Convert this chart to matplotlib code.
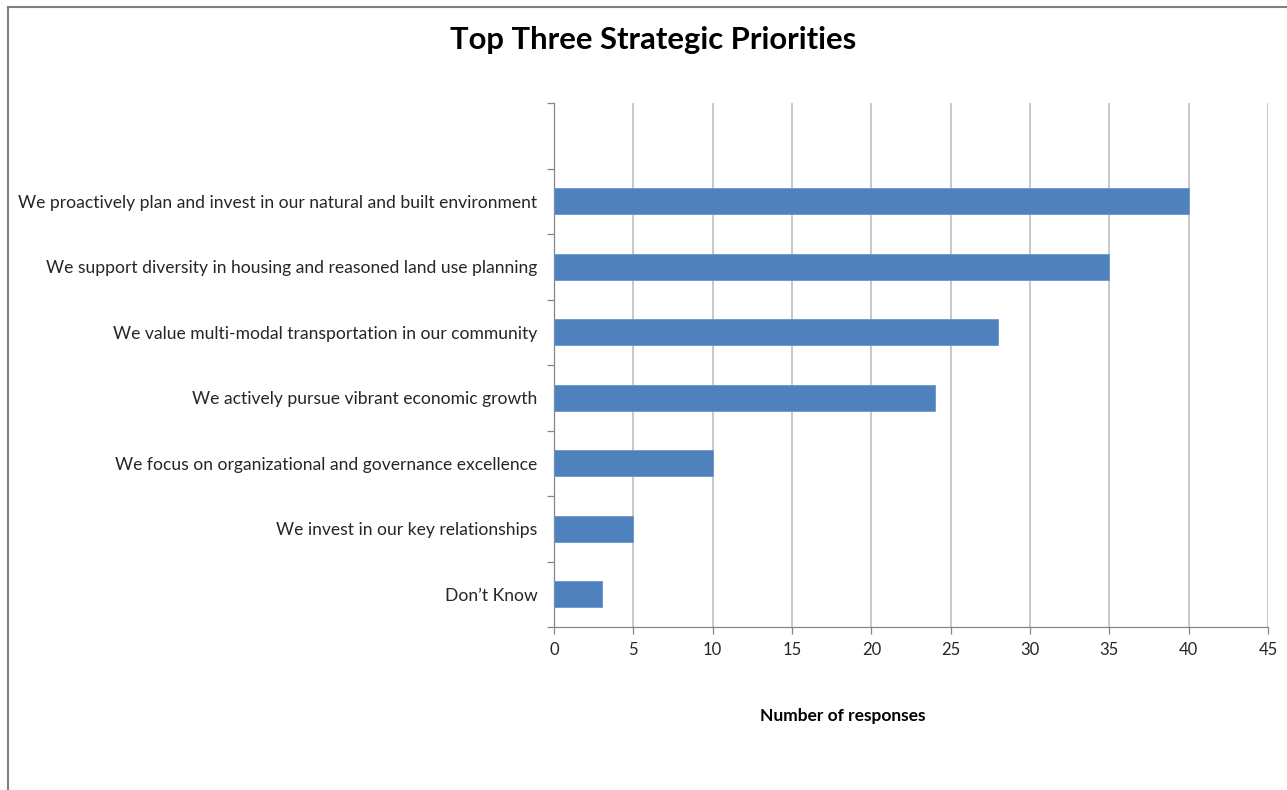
import matplotlib.pyplot as plt
from matplotlib.lines import Line2D
import numpy as np

plt.rcParams['font.family'] = ['Lato', 'DejaVu Sans']

# survey answers, bottom to top as drawn
priorities = [
    "Don\u2019t Know",
    "We invest in our key relationships",
    "We focus on organizational and governance excellence",
    "We actively pursue vibrant economic growth",
    "We value multi-modal transportation in our community",
    "We support diversity in housing and reasoned land use planning",
    "We proactively plan and invest in our natural and built environment",
]
responses = [3, 5, 10, 24, 28, 35, 40]
x_ticks = [0, 5, 10, 15, 20, 25, 30, 35, 40, 45]

axis_grey = '#868686'
text_col = '#262626'

fig = plt.figure(figsize=(12.87, 7.90), dpi=100)
ax = fig.add_axes([554 / 1287, 1 - 627 / 790, 714 / 1287, 524 / 790])

pos = np.arange(len(priorities))
ax.barh(pos, responses, height=0.4, color='#4F81BD', edgecolor='#6A96CC',
        linewidth=0.6, zorder=3)

ax.set_xlim(0, 45)
ax.set_ylim(-0.5, 7.5)
ax.set_xticks(x_ticks)
ax.set_xticklabels([str(v) for v in x_ticks], fontsize=12, color=text_col)
ax.tick_params(axis='x', length=5, width=0.9, color=axis_grey, pad=6)

# category labels on centres, tick marks on the boundaries
ax.set_yticks(pos)
ax.set_yticklabels(priorities, fontsize=12.6, color=text_col)
ax.tick_params(axis='y', which='major', length=0, pad=12)
ax.set_yticks(np.arange(-0.5, 8, 1), minor=True)
ax.tick_params(axis='y', which='minor', length=5, width=0.9, color=axis_grey)

ax.grid(axis='x', color='#BFBFBF', linewidth=1.2, zorder=0)
for s in ['top', 'right']:
    ax.spines[s].set_visible(False)
for s in ['left', 'bottom']:
    ax.spines[s].set_color(axis_grey)
    ax.spines[s].set_linewidth(0.9)

fig.text(653 / 1287, 1 - 40 / 790, 'Top Three Strategic Priorities',
         ha='center', va='center', fontsize=22.3, fontweight='bold', color='black')
fig.text(843 / 1287, 1 - 716 / 790, 'Number of responses',
         ha='center', va='center', fontsize=12.5, fontweight='bold', color='black')

# chart frame edges (left and top)
fig.add_artist(Line2D([7.5 / 1287, 7.5 / 1287], [0, 1 - 6.5 / 790],
                      transform=fig.transFigure, color='#808080', linewidth=1.5))
fig.add_artist(Line2D([7.5 / 1287, 1], [1 - 6.5 / 790, 1 - 6.5 / 790],
                      transform=fig.transFigure, color='#808080', linewidth=1.5))

fig.savefig('out.png', dpi=100)
